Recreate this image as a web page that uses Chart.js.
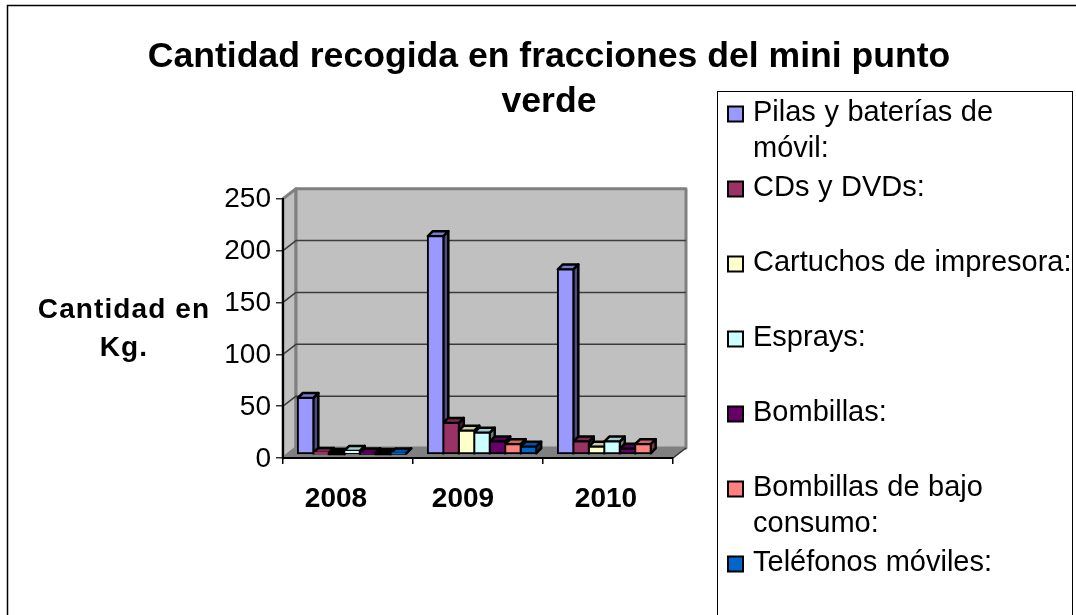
<!DOCTYPE html>
<html>
<head>
<meta charset="utf-8">
<style>
  html, body { margin: 0; padding: 0; background: #fff; overflow: hidden; }
  canvas { display: block; }
</style>
<script src="https://cdn.jsdelivr.net/npm/chart.js@4"></script>
</head>
<body>
<canvas id="chart" width="1076" height="615"></canvas>
<script>
const categories = ['2008', '2009', '2010'];
const seriesNames = [['Pilas y baterías de', 'móvil:'], ['CDs y DVDs:'], ['Cartuchos de impresora:'], ['Esprays:'], ['Bombillas:'], ['Bombillas de bajo', 'consumo:'], ['Teléfonos móviles:']];
const pilas = [54, 210, 178];
const cds = [1, 30, 12];
const cartuchos = [0, 22.5, 7];
const esprays = [3, 20.5, 12];
const bombillas = [0.5, 12, 5];
const bajoConsumo = [0, 9.5, 9.5];
const telefonos = [0.5, 7, null];
const seriesValues = [pilas, cds, cartuchos, esprays, bombillas, bajoConsumo, telefonos];
const seriesColors = ['#9999ff', '#993366', '#ffffcc', '#ccffff', '#660066', '#ff8080', '#0066cc'];

const FONT = '"Liberation Sans", Arial, sans-serif';
// fake 3d: wall sits behind the front axis, bars stand part way in
const wallDepth = { x: 13, y: -10 };
const barPlane = { x: 4, y: -4 };
const barDepth = { x: 5, y: -5 };
// the source chart has its year labels off centre
const categoryLabelShift = [-12, -15, -2];

const shade = (hex, k) => {
    const n = parseInt(hex.slice(1), 16);
    return `rgb(${(n >> 16) * k}, ${((n >> 8) & 255) * k}, ${(n & 255) * k})`;
};

const poly = (ctx, pts, fill, stroke, width) => {
    ctx.beginPath();
    pts.forEach((p, i) => (i ? ctx.lineTo(p[0], p[1]) : ctx.moveTo(p[0], p[1])));
    ctx.closePath();
    if (fill) { ctx.fillStyle = fill; ctx.fill(); }
    if (stroke) { ctx.strokeStyle = stroke; ctx.lineWidth = width; ctx.lineJoin = 'round'; ctx.stroke(); }
};

const wallsPlugin = {
    id: 'walls',
    afterLayout(chart) {
        // title is centred on the whole picture plus a bit, not on the plot
        chart.titleBlock.left = 0;
        chart.titleBlock.right = 1098;
    },
    beforeDraw(chart) {
        const { ctx, chartArea: { left, right, top, bottom }, scales: { y } } = chart;
        const dx = wallDepth.x, dy = wallDepth.y;
        ctx.save();
        ctx.fillStyle = '#fff';
        ctx.fillRect(0, 0, chart.width, chart.height);

        // outer frame, open on the right and at the bottom
        ctx.strokeStyle = '#000';
        ctx.lineWidth = 1.5;
        ctx.beginPath();
        ctx.moveTo(7.5, chart.height);
        ctx.lineTo(7.5, 5.5);
        ctx.lineTo(chart.width, 5.5);
        ctx.stroke();

        poly(ctx, [[left, bottom], [left + dx, bottom + dy], [left + dx, top + dy], [left, top]], '#c0c0c0', '#808080', 3);
        poly(ctx, [[left + dx, bottom + dy], [right + dx, bottom + dy], [right + dx, top + dy], [left + dx, top + dy]], '#c0c0c0', '#808080', 3);

        y.ticks.forEach((t) => {
            const py = y.getPixelForValue(t.value);
            if (t.value === y.min || t.value === y.max) return;
            ctx.strokeStyle = '#3c3c3c';
            ctx.lineWidth = 1.5;
            ctx.beginPath();
            ctx.moveTo(left, py);
            ctx.lineTo(left + dx, py + dy);
            ctx.lineTo(right + dx, py + dy);
            ctx.stroke();
        });

        poly(ctx, [[left, bottom], [left + dx, bottom + dy], [right + dx, bottom + dy], [right, bottom]], '#808080');
        ctx.strokeStyle = '#333';
        ctx.lineWidth = 1.5;
        ctx.beginPath();
        ctx.moveTo(right, bottom);
        ctx.lineTo(right + dx, bottom + dy);
        ctx.stroke();
        ctx.restore();
    },
    beforeDatasetsDraw(chart) {
        const { ctx } = chart;
        ctx.save();
        ctx.translate(barPlane.x, barPlane.y);
        const dx = barDepth.x, dy = barDepth.y;
        categories.forEach((c, i) => {
            seriesValues.forEach((vals, s) => {
                if (vals[i] === null) return;
                const bar = chart.getDatasetMeta(s).data[i];
                const l = bar.x - bar.width / 2, r = bar.x + bar.width / 2;
                const color = seriesColors[s];
                poly(ctx, [[r, bar.y], [r + dx, bar.y + dy], [r + dx, bar.base + dy], [r, bar.base]], shade(color, 0.5), '#000', 2.5);
                // a zero bar comes out as a flat black slab in the source
                poly(ctx, [[l, bar.y], [l + dx, bar.y + dy], [r + dx, bar.y + dy], [r, bar.y]], vals[i] === 0 ? '#000' : shade(color, 0.8), '#000', 2.5);
            });
        });
    },
    afterDatasetsDraw(chart) {
        chart.ctx.restore();
    },
    afterDraw(chart) {
        const { ctx, scales: { x } } = chart;
        ctx.save();
        ctx.fillStyle = '#000';
        ctx.textBaseline = 'alphabetic';

        // year labels
        ctx.textAlign = 'center';
        ctx.font = `bold 28px ${FONT}`;
        categories.forEach((c, i) => ctx.fillText(c, x.getPixelForValue(i) + categoryLabelShift[i], 507));

        // value axis title, not rotated in the source
        ctx.letterSpacing = '1.1px';
        ctx.fillText('Cantidad en', 124, 318);
        ctx.fillText('Kg.', 124, 356);
        ctx.letterSpacing = '0px';

        // legend box
        ctx.strokeStyle = '#000';
        ctx.lineWidth = 1;
        ctx.strokeRect(717.5, 91.5, 355, 540);
        ctx.textAlign = 'left';
        ctx.font = `29px ${FONT}`;
        ctx.wordSpacing = '0.5px';
        seriesNames.forEach((lines, i) => {
            const cy = 113.5 + i * 75;
            ctx.fillStyle = seriesColors[i];
            ctx.fillRect(728, cy - 7, 15, 15);
            ctx.strokeStyle = '#000';
            ctx.lineWidth = 2;
            ctx.strokeRect(728, cy - 7, 15, 15);
            ctx.fillStyle = '#000';
            lines.forEach((l, k) => ctx.fillText(l, 753, cy + 7.5 + k * 36));
        });
        ctx.restore();
    }
};

new Chart(document.getElementById('chart'), {
    type: 'bar',
    data: {
        labels: categories,
        datasets: seriesValues.map((vals, s) => ({
            label: seriesNames[s].join(' '),
            data: vals,
            backgroundColor: seriesColors[s],
            borderColor: '#000',
            borderWidth: 2,
            inflateAmount: 1,
            borderSkipped: false,
            clip: false,
            categoryPercentage: 0.833,
            barPercentage: 1
        }))
    },
    options: {
        responsive: false,
        animation: false,
        layout: { padding: { left: 0, right: 403, top: 0, bottom: 0 } },
        plugins: {
            legend: { display: false },
            tooltip: { enabled: false },
            title: {
                display: true,
                text: ['Cantidad recogida en fracciones del mini punto', 'verde'],
                color: '#000',
                font: { family: FONT, size: 35.6, weight: 'bold', lineHeight: 1.26 },
                padding: { top: 34.5, bottom: 74.5 }
            }
        },
        scales: {
            x: {
                afterFit: (s) => { s.height = 157; },
                grid: { drawOnChartArea: false, drawTicks: true, tickLength: 6, color: '#000', lineWidth: 1.5 },
                border: { color: '#000', width: 2 },
                ticks: { display: false }
            },
            y: {
                min: 0,
                max: 250,
                afterFit: (s) => { s.width = 283; },
                grid: { drawOnChartArea: false, drawTicks: true, tickLength: 7, color: '#333', lineWidth: 1.5 },
                border: { color: '#000', width: 2 },
                ticks: {
                    stepSize: 50,
                    padding: 5,
                    labelOffset: 1,
                    color: '#000',
                    font: { family: FONT, size: 28 }
                }
            }
        }
    },
    plugins: [wallsPlugin]
});
</script>
</body>
</html>
